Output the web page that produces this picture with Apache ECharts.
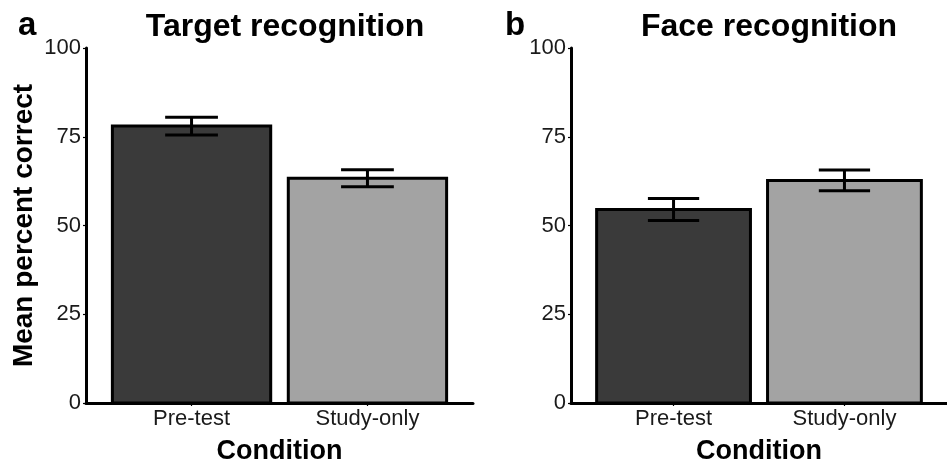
<!DOCTYPE html>
<html>
<head>
<meta charset="utf-8">
<script src="https://cdn.jsdelivr.net/npm/echarts@6/dist/echarts.min.js"></script>
<style>html,body{margin:0;padding:0;background:#fff}#c{width:947px;height:470px}</style>
</head>
<body>
<div id="c"></div>
<script>
const categories = ['Pre-test', 'Study-only'];
const xPositions = [1, 2];
const targetMeans = [78, 63.3];
const targetSE = [2.5, 2.4];
const faceMeans = [54.5, 62.7];
const faceSE = [3.1, 2.9];
const yTicks = [0, 25, 50, 75, 100];
const barColors = ['#3a3a3a', '#a3a3a3'];

const FONT = 'Liberation Sans, Arial, sans-serif';

function barRender(params, api) {
  const x = api.value(0), y = api.value(1);
  const p1 = api.coord([x - 0.45, y]);
  const p2 = api.coord([x + 0.45, 0]);
  return {
    type: 'rect',
    shape: { x: p1[0], y: p1[1], width: p2[0] - p1[0], height: p2[1] - p1[1] },
    style: { fill: barColors[params.dataIndex], stroke: '#000', lineWidth: 3 }
  };
}
function errRender(params, api) {
  const x = api.value(0), lo = api.value(1), hi = api.value(2);
  const a = api.coord([x - 0.15, hi]), b = api.coord([x + 0.15, hi]);
  const c = api.coord([x - 0.15, lo]), d = api.coord([x + 0.15, lo]);
  const m1 = api.coord([x, hi]), m2 = api.coord([x, lo]);
  const st = { stroke: '#000', lineWidth: 3 };
  return {
    type: 'group',
    children: [
      { type: 'line', shape: { x1: a[0], y1: a[1], x2: b[0], y2: b[1] }, style: st },
      { type: 'line', shape: { x1: c[0], y1: c[1], x2: d[0], y2: d[1] }, style: st },
      { type: 'line', shape: { x1: m1[0], y1: m1[1], x2: m2[0], y2: m2[1] }, style: st }
    ]
  };
}

function xAxisDef(idx) {
  return {
    type: 'value', gridIndex: idx, min: 0.4, max: 2.6,
    splitLine: { show: false },
    axisLine: { lineStyle: { color: '#000', width: 3 } },
    axisTick: { show: true, customValues: xPositions, length: 3, lineStyle: { color: '#000', width: 1.2 } },
    axisLabel: {
      customValues: xPositions,
      formatter: v => categories[Math.round(v) - 1] || '',
      color: '#1a1a1a', fontSize: 22, fontFamily: FONT, margin: 5
    },
    name: 'Condition', nameLocation: 'middle', nameGap: 35,
    nameTextStyle: { color: '#000', fontSize: 27, fontWeight: 'bold', fontFamily: FONT }
  };
}
function yAxisDef(idx, withName) {
  const d = {
    type: 'value', gridIndex: idx, min: 0, max: 100, interval: 25,
    splitLine: { show: false },
    axisLine: { show: true, lineStyle: { color: '#000', width: 3 } },
    axisTick: { show: true, length: 3, lineStyle: { color: '#000', width: 1.2 } },
    axisLabel: { color: '#1a1a1a', fontSize: 22, fontFamily: FONT, margin: 5,
      customValues: yTicks }
  };
  if (withName) {
    d.name = 'Mean percent correct';
    d.nameLocation = 'middle';
    d.nameGap = 48;
    d.nameRotate = 90;
    d.nameTextStyle = { color: '#000', fontSize: 28, fontWeight: 'bold', fontFamily: FONT };
  }
  return d;
}

const chart = echarts.init(document.getElementById('c'), null, { renderer: 'canvas' });
chart.setOption({
  animation: false,
  backgroundColor: '#fff',
  title: [
    { text: 'Target recognition', left: 280, top: 6, textAlign: 'center',
      textStyle: { fontSize: 32, fontWeight: 'bold', color: '#000', fontFamily: FONT } },
    { text: 'Face recognition', left: 764, top: 6, textAlign: 'center',
      textStyle: { fontSize: 32, fontWeight: 'bold', color: '#000', fontFamily: FONT } },
    { text: 'a', left: 13, top: 4,
      textStyle: { fontSize: 33, fontWeight: 'bold', color: '#000', fontFamily: FONT } },
    { text: 'b', left: 500, top: 4,
      textStyle: { fontSize: 33, fontWeight: 'bold', color: '#000', fontFamily: FONT } }
  ],
  grid: [
    { left: 86, top: 48, width: 387, height: 358 },
    { left: 571, top: 48, width: 387, height: 358 }
  ],
  xAxis: [xAxisDef(0), xAxisDef(1)],
  yAxis: [yAxisDef(0, true), yAxisDef(1, false)],
  series: [
    { type: 'custom', xAxisIndex: 0, yAxisIndex: 0, renderItem: barRender,
      data: xPositions.map((x, i) => [x, targetMeans[i]]), z: 2 },
    { type: 'custom', xAxisIndex: 0, yAxisIndex: 0, renderItem: errRender,
      data: xPositions.map((x, i) => [x, targetMeans[i] - targetSE[i], targetMeans[i] + targetSE[i]]), z: 3 },
    { type: 'custom', xAxisIndex: 1, yAxisIndex: 1, renderItem: barRender,
      data: xPositions.map((x, i) => [x, faceMeans[i]]), z: 2 },
    { type: 'custom', xAxisIndex: 1, yAxisIndex: 1, renderItem: errRender,
      data: xPositions.map((x, i) => [x, faceMeans[i] - faceSE[i], faceMeans[i] + faceSE[i]]), z: 3 }
  ]
});
</script>
</body>
</html>
